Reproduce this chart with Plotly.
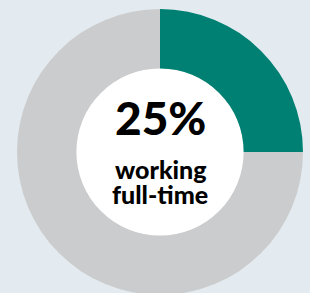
import plotly.graph_objects as go

labels = ["Working full-time", "Other"]
values = [25, 75]
colors = ["#007f73", "#cbcccd"]
headline = "25%"
caption_lines = ["working", "full-time"]

W, H = 310, 295
fig = go.Figure()
fig.add_trace(go.Pie(
    labels=labels, values=values, sort=False, direction="clockwise", rotation=0,
    marker=dict(colors=colors, line=dict(width=0)),
    textinfo="none", hole=0.58, showlegend=False, hoverinfo="label+percent",
    domain=dict(x=[0, 1], y=[0, 1]),
))
# white centre disk
r_in = 0.2923
fig.add_trace(go.Pie(
    labels=["centre"], values=[1], sort=False,
    marker=dict(colors=["#ffffff"], line=dict(width=0)),
    textinfo="none", showlegend=False, hoverinfo="skip",
    domain=dict(x=[0.5 - r_in, 0.5 + r_in], y=[0.5 - r_in, 0.5 + r_in]),
))
font_family = "Lato Black, Lato Heavy, Lato, sans-serif"
fig.add_annotation(text=headline, x=0.5, y=0.622, xref="paper", yref="paper",
                   showarrow=False, font=dict(family=font_family, size=46, color="#000000", weight=900))
for txt, yy in zip(caption_lines, [0.442, 0.353]):
    fig.add_annotation(text=txt, x=0.5, y=yy, xref="paper", yref="paper",
                       showarrow=False, font=dict(family=font_family, size=25, color="#000000", weight=900))
fig.update_layout(
    width=W, height=H,
    margin=dict(l=17, r=7, t=9, b=0),
    paper_bgcolor="#e3ebf1", plot_bgcolor="#e3ebf1",
)
fig.write_html("out.html", config=dict(displayModeBar=False),
               post_script="document.body.style.margin='0';document.body.style.overflow='hidden';document.body.style.background='#e3ebf1';")
